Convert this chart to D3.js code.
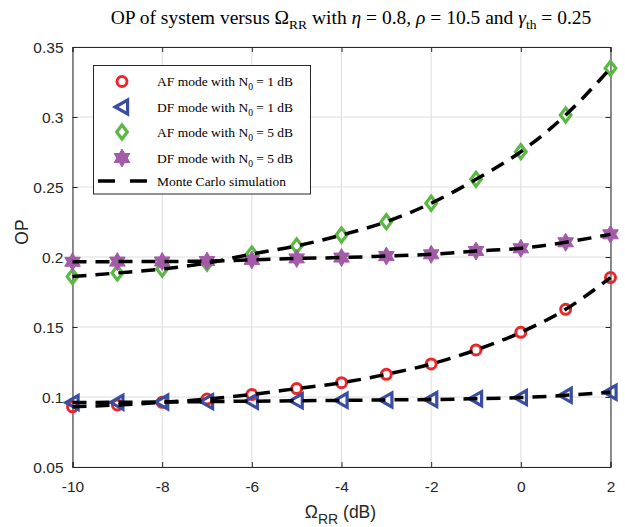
<!DOCTYPE html>
<html>
<head>
<meta charset="utf-8">
<script src="https://cdn.jsdelivr.net/npm/d3@7"></script>
<style>
  html, body { margin: 0; padding: 0; background: #fff; }
  svg { display: block; }
</style>
</head>
<body>
<svg id="chart" width="625" height="527"></svg>
<script>
// ---- data ----
const omegaRR = [-10, -9, -8, -7, -6, -5, -4, -3, -2, -1, 0, 1, 2];
const afN0_1 = [0.093, 0.0943, 0.0962, 0.0985, 0.1018, 0.1060, 0.1102, 0.1162, 0.1236, 0.1336, 0.1462, 0.1626, 0.1853];
const dfN0_1 = [0.0960, 0.0962, 0.0964, 0.0967, 0.0970, 0.0973, 0.0976, 0.0979, 0.0982, 0.0988, 0.0996, 0.1012, 0.1034];
const afN0_5 = [0.1860, 0.1886, 0.1914, 0.1957, 0.2021, 0.2079, 0.2157, 0.2252, 0.2384, 0.2555, 0.2752, 0.3014, 0.3348];
const dfN0_5 = [0.1966, 0.1967, 0.1968, 0.1971, 0.1979, 0.1990, 0.1996, 0.2007, 0.2019, 0.2043, 0.2062, 0.2105, 0.2162];
const xTicks = [-10, -8, -6, -4, -2, 0, 2];
const yTicks = [0.05, 0.1, 0.15, 0.2, 0.25, 0.3, 0.35];
const legendLabels = ["AF mode with N0 = 1 dB", "DF mode with N0 = 1 dB", "AF mode with N0 = 5 dB", "DF mode with N0 = 5 dB", "Monte Carlo simulation"];

const colors = { red: "#e8282b", blue: "#3a4ea1", green: "#5ab843", purple: "#a35ba8" };

const svg = d3.select("#chart");
const m = { left: 72.5, right: 610.5, top: 47, bottom: 467 };
const x = d3.scaleLinear().domain([-10, 2]).range([m.left, m.right]);
const y = d3.scaleLinear().domain([0.05, 0.35]).range([m.bottom, m.top]);

// grid
const grid = svg.append("g");
grid.selectAll("line.gx").data(xTicks).enter().append("line")
  .attr("x1", d => x(d)).attr("x2", d => x(d)).attr("y1", m.top).attr("y2", m.bottom)
  .attr("stroke", "#dedede").attr("stroke-width", 1);
grid.selectAll("line.gy").data(yTicks).enter().append("line")
  .attr("y1", d => y(d)).attr("y2", d => y(d)).attr("x1", m.left).attr("x2", m.right)
  .attr("stroke", "#dedede").attr("stroke-width", 1);

// axes
const axColor = "#262626";
const xAxis = svg.append("g").attr("transform", `translate(0,${m.bottom})`)
  .call(d3.axisBottom(x).tickValues(xTicks).tickSize(-5).tickPadding(14).tickFormat(d => String(d)));
const xAxisTop = svg.append("g").attr("transform", `translate(0,${m.top})`)
  .call(d3.axisTop(x).tickValues(xTicks).tickSize(-5).tickFormat(""));
const yAxis = svg.append("g").attr("transform", `translate(${m.left},0)`)
  .call(d3.axisLeft(y).tickValues(yTicks).tickSize(-5).tickPadding(9).tickFormat(d => String(+d.toFixed(2))));
const yAxisRight = svg.append("g").attr("transform", `translate(${m.right},0)`)
  .call(d3.axisRight(y).tickValues(yTicks).tickSize(-5).tickFormat(""));
[xAxis, xAxisTop, yAxis, yAxisRight].forEach(g => {
  g.selectAll("path.domain").attr("stroke", axColor).attr("stroke-width", 1);
  g.selectAll(".tick line").attr("stroke", axColor);
  g.selectAll("text").attr("fill", axColor).style("font-family", "'Liberation Sans', Arial, sans-serif").style("font-size", "15.5px");
});
yAxis.selectAll("text").attr("dy", "0.35em");

// markers
const hexagram = (R) => {
  const r = R * 0.577;
  let pts = [];
  for (let i = 0; i < 12; i++) {
    const a = -Math.PI / 2 + i * Math.PI / 6;
    const rad = i % 2 === 0 ? R : r;
    pts.push([rad * Math.cos(a), rad * Math.sin(a)]);
  }
  return "M" + pts.map(p => p.join(",")).join("L") + "Z";
};
const markers = {
  circle: { path: d3.symbol().type(d3.symbolCircle).size(Math.PI * 5 * 5)(), stroke: colors.red, fill: "none", sw: 3 },
  tri: { path: "M-6.8,0L5.6,-7L5.6,7Z", stroke: colors.blue, fill: "none", sw: 3.2 },
  diamond: { path: "M0,-7L5.3,0L0,7L-5.3,0Z", stroke: colors.green, fill: "none", sw: 3.2 },
  star: { path: hexagram(9), stroke: colors.purple, fill: colors.purple, sw: 1 }
};

const series = [
  { vals: afN0_1, mk: markers.circle },
  { vals: dfN0_1, mk: markers.tri },
  { vals: afN0_5, mk: markers.diamond },
  { vals: dfN0_5, mk: markers.star }
];

const plot = svg.append("g");
series.forEach(s => {
  plot.append("g").selectAll("path").data(omegaRR).enter().append("path")
    .attr("d", s.mk.path)
    .attr("transform", (d, i) => `translate(${x(d)},${y(s.vals[i])})`)
    .attr("fill", s.mk.fill).attr("stroke", s.mk.stroke).attr("stroke-width", s.mk.sw)
    .attr("stroke-linejoin", "miter");
});

const line = d3.line().x((d, i) => x(omegaRR[i])).y(d => y(d)).curve(d3.curveMonotoneX);
series.forEach(s => {
  plot.append("path").datum(s.vals).attr("d", line)
    .attr("fill", "none").attr("stroke", "#000").attr("stroke-width", 3.5)
    .attr("stroke-dasharray", "14,9");
});

// legend
const lg = svg.append("g");
lg.append("rect").attr("x", 93.5).attr("y", 65.5).attr("width", 217).attr("height", 128.5)
  .attr("fill", "#fff").attr("stroke", axColor).attr("stroke-width", 1);
const rowsY = [81.5, 107, 132, 158, 181];
const lgFont = "'Liberation Serif', 'Times New Roman', serif";
series.forEach((s, i) => {
  lg.append("path").attr("d", s.mk.path).attr("transform", `translate(122,${rowsY[i]})`)
    .attr("fill", s.mk.fill).attr("stroke", s.mk.stroke).attr("stroke-width", s.mk.sw);
  const t = lg.append("text").attr("x", 157).attr("y", rowsY[i] + 4.5)
    .style("font-family", lgFont).style("font-size", "13.5px").attr("fill", "#000");
  const parts = legendLabels[i].split("N0");
  t.append("tspan").text(parts[0] + "N");
  t.append("tspan").attr("dy", 4).style("font-size", "9.5px").text("0");
  t.append("tspan").attr("dy", -4).text(parts[1]);
});
lg.append("line").attr("x1", 98).attr("x2", 147).attr("y1", rowsY[4]).attr("y2", rowsY[4])
  .attr("stroke", "#000").attr("stroke-width", 3.5).attr("stroke-dasharray", "17,15");
lg.append("text").attr("x", 157).attr("y", rowsY[4] + 4.5)
  .style("font-family", lgFont).style("font-size", "13.5px").text(legendLabels[4]);

// title
const title = svg.append("text").attr("x", 351).attr("y", 24).attr("text-anchor", "middle")
  .style("font-family", lgFont).style("font-size", "19.5px").attr("fill", "#000");
title.append("tspan").text("OP of system versus Ω");
title.append("tspan").attr("dy", 5).style("font-size", "13.5px").text("RR");
title.append("tspan").attr("dy", -5).text(" with ");
title.append("tspan").style("font-style", "italic").text("η");
title.append("tspan").text(" = 0.8, ");
title.append("tspan").style("font-style", "italic").text("ρ");
title.append("tspan").text(" = 10.5 and ");
title.append("tspan").style("font-style", "italic").text("γ");
title.append("tspan").attr("dy", 5).style("font-size", "13.5px").text("th");
title.append("tspan").attr("dy", -5).text(" = 0.25");

// axis labels
const axFont = "'Liberation Sans', Arial, sans-serif";
const xl = svg.append("text").attr("x", 340.5).attr("y", 518).attr("text-anchor", "middle")
  .style("font-family", axFont).style("font-size", "17.5px").attr("fill", axColor);
xl.append("tspan").text("Ω");
xl.append("tspan").attr("dy", 6).style("font-size", "14px").text("RR");
xl.append("tspan").attr("dy", -6).text(" (dB)");
svg.append("text").attr("transform", "translate(28,232) rotate(-90)").attr("text-anchor", "middle")
  .style("font-family", axFont).style("font-size", "17.5px").attr("fill", axColor).text("OP");
</script>
</body>
</html>
